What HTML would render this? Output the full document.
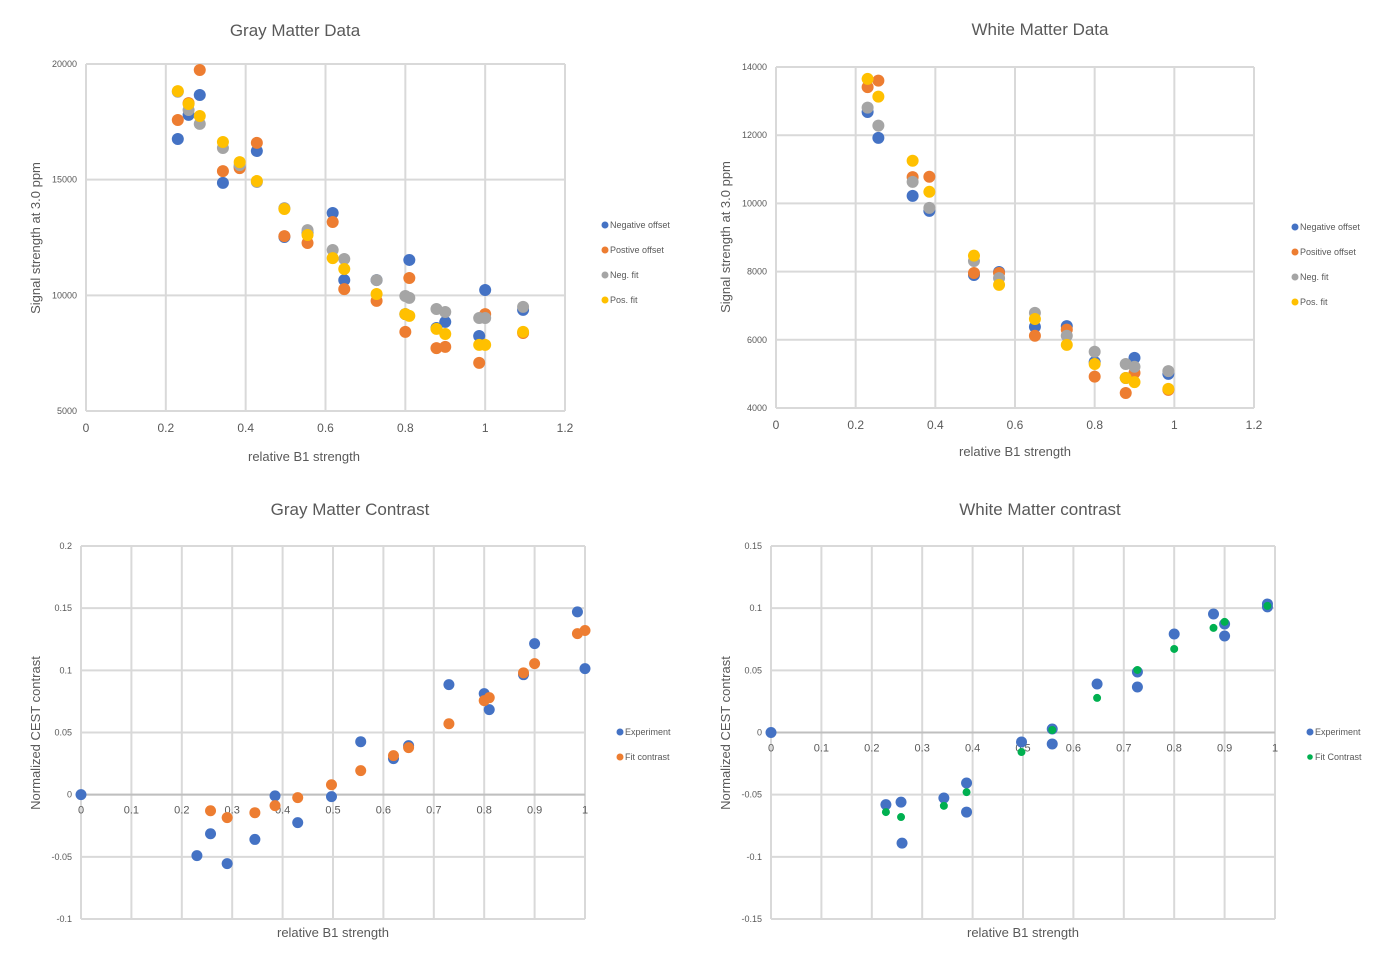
<!DOCTYPE html>
<html><head><meta charset="utf-8"><style>
html,body{margin:0;padding:0;background:#fff;}
svg text{font-family:"Liberation Sans",sans-serif;fill:#595959;}
</style></head><body>
<svg id="root" width="1387" height="967" xmlns="http://www.w3.org/2000/svg"></svg>
<script>
// ---- Chart 1: Gray Matter Data
const gmX = [0.23,0.257,0.285,0.343,0.385,0.428,0.497,0.555,0.618,0.647,0.728,0.8,0.81,0.878,0.9,0.985,1.0,1.095];
const gmNeg = [16760,17800,18660,14860,15550,16240,12520,12700,13560,10660,10660,9190,11530,8590,8850,8240,10230,9370];
const gmPos = [17580,18310,19740,15370,15500,16590,12560,12260,13170,10270,9760,8420,10750,7720,7770,7080,9190,8370];
const gmNegFit = [18800,18010,17410,16370,15630,14900,13770,12820,11960,11570,10660,9970,9890,9410,9280,9020,9020,9500];
const gmPosFit = [18830,18270,17750,16630,15760,14940,13730,12610,11610,11140,10060,9190,9110,8550,8330,7860,7860,8420];
const gmXTicks = [0,0.2,0.4,0.6,0.8,1,1.2];
const gmYTicks = [5000,10000,15000,20000];
// ---- Chart 2: White Matter Data
const wmX = [0.23,0.257,0.343,0.385,0.497,0.56,0.65,0.73,0.8,0.878,0.9,0.985];
const wmNeg = [12680,11920,10220,9780,7900,7990,6380,6400,5350,4880,5470,5000];
const wmPos = [13410,13600,10770,10780,7960,7960,6120,6300,4920,4440,5030,4530];
const wmNegFit = [12810,12280,10630,9870,8310,7810,6790,6120,5650,5290,5210,5080];
const wmPosFit = [13650,13130,11250,10340,8470,7610,6610,5850,5290,4880,4760,4560];
const wmXTicks = [0,0.2,0.4,0.6,0.8,1,1.2];
const wmYTicks = [4000,6000,8000,10000,12000,14000];
// ---- Chart 3: Gray Matter Contrast
const gcExpX = [0,0.23,0.257,0.29,0.345,0.385,0.43,0.497,0.555,0.62,0.65,0.73,0.8,0.81,0.878,0.9,0.985,1.0];
const gcExpY = [0,-0.049,-0.0314,-0.0555,-0.036,-0.001,-0.0225,-0.0016,0.0426,0.029,0.0394,0.0885,0.0813,0.0684,0.0965,0.1215,0.147,0.1014];
const gcFitX = [0.257,0.29,0.345,0.385,0.43,0.497,0.555,0.62,0.65,0.73,0.8,0.81,0.878,0.9,0.985,1.0];
const gcFitY = [-0.0129,-0.0185,-0.0145,-0.0088,-0.0024,0.008,0.0193,0.0314,0.0378,0.057,0.0756,0.078,0.098,0.1054,0.1295,0.132];
const gcXTicks = [0,0.1,0.2,0.3,0.4,0.5,0.6,0.7,0.8,0.9,1];
const gcYTicks = [-0.1,-0.05,0,0.05,0.1,0.15,0.2];
// ---- Chart 4: White Matter contrast
const wcExpX = [0,0.228,0.258,0.26,0.343,0.388,0.388,0.497,0.558,0.558,0.647,0.727,0.727,0.8,0.878,0.9,0.9,0.985,0.985];
const wcExpY = [0,-0.058,-0.056,-0.089,-0.0527,-0.0406,-0.064,-0.0076,-0.0092,0.0028,0.039,0.0366,0.0487,0.0792,0.0953,0.0873,0.0776,0.1034,0.101];
const wcFitX = [0.228,0.258,0.343,0.388,0.497,0.558,0.647,0.727,0.8,0.878,0.9,0.985];
const wcFitY = [-0.064,-0.068,-0.059,-0.048,-0.0157,0.002,0.0278,0.0503,0.0672,0.0841,0.089,0.1018];
const wcXTicks = [0,0.1,0.2,0.3,0.4,0.5,0.6,0.7,0.8,0.9,1];
const wcYTicks = [-0.15,-0.1,-0.05,0,0.05,0.1,0.15];

const NS='http://www.w3.org/2000/svg';
const root=document.getElementById('root');
function mk(tag,attrs,parent,txt){const e=document.createElementNS(NS,tag);for(const k in attrs)e.setAttribute(k,attrs[k]);if(txt!==undefined)e.textContent=txt;(parent||root).appendChild(e);return e;}

function chart(cfg){
  const g=mk('g',{});
  
  
  const sx=v=>cfg.x0+(v-cfg.xmin)/(cfg.xmax-cfg.xmin)*(cfg.x1-cfg.x0);
  const sy=v=>cfg.y1-(v-cfg.ymin)/(cfg.ymax-cfg.ymin)*(cfg.y1-cfg.y0);
  const t=mk('text',{x:cfg.tx,y:cfg.ty,'text-anchor':'middle','font-size':17},g,cfg.title);
  
  
  cfg.xticks.forEach(v=>{
    const l=mk('line',{x1:sx(v),x2:sx(v),y1:cfg.y0,y2:cfg.y1,stroke:'#d9d9d9','stroke-width':2},g);
    
    
    const ly=cfg.zeroAxis?sy(0)+19:cfg.y1+21;
    const tl=mk('text',{x:sx(v),y:ly,'text-anchor':'middle','font-size':cfg.zeroAxis?11:12},g,String(v));
    
    
  });
  cfg.yticks.forEach(v=>{
    const l=mk('line',{x1:cfg.x0,x2:cfg.x1,y1:sy(v),y2:sy(v),stroke:'#d9d9d9','stroke-width':2},g);
    
    
    const tl=mk('text',{x:cfg.x0-9,y:sy(v)+3,'text-anchor':'end','font-size':9},g,String(v));
    
    
  });
  if(cfg.zeroAxis){
    const z=mk('line',{x1:cfg.x0,x2:cfg.x1,y1:sy(0),y2:sy(0),stroke:'#bfbfbf','stroke-width':2},g);
    
    
  }
  const xt=mk('text',{x:cfg.xtx,y:cfg.xty,'text-anchor':'middle','font-size':13},g,'relative B1 strength');
  
  
  const yt=mk('text',{x:0,y:0,'text-anchor':'middle','font-size':13,transform:`translate(${cfg.ytx},${cfg.yty}) rotate(-90)`},g,cfg.ytitle);
  
  
  cfg.series.forEach((s,i)=>{
    s.xs.forEach((xv,j)=>{
      const c=mk('circle',{cx:sx(xv),cy:sy(s.ys[j]),r:s.r,fill:s.color},g);
      
      
    });
    const ly=cfg.ly+i*25;
    const lc=mk('circle',{cx:cfg.lx,cy:ly,r:s.r>5?3.5:2.8,fill:s.color},g);
    
    
    const lt=mk('text',{x:cfg.lx+5,y:ly+3,'font-size':9},g,s.label);
    
    
  });
}
const rep=(a)=>a;
chart({name:'gray-matter-data-chart',title:'Gray Matter Data',tx:295,ty:36,x0:86,x1:565,y0:64,y1:411,xmin:0,xmax:1.2,ymin:5000,ymax:20000,
  xticks:gmXTicks,yticks:gmYTicks,xtx:304,xty:461,ytx:40,yty:238,ytitle:'Signal strength at 3.0 ppm',lx:605,ly:225,
  series:[{key:'negative-offset',label:'Negative offset',color:'#4472C4',r:6,xs:gmX,ys:gmNeg},
          {key:'positive-offset',label:'Postive offset',color:'#ED7D31',r:6,xs:gmX,ys:gmPos},
          {key:'neg-fit',label:'Neg. fit',color:'#A5A5A5',r:6,xs:gmX,ys:gmNegFit},
          {key:'pos-fit',label:'Pos. fit',color:'#FFC000',r:6,xs:gmX,ys:gmPosFit}]});
chart({name:'white-matter-data-chart',title:'White Matter Data',tx:1040,ty:35,x0:776,x1:1254,y0:67,y1:408,xmin:0,xmax:1.2,ymin:4000,ymax:14000,
  xticks:wmXTicks,yticks:wmYTicks,xtx:1015,xty:456,ytx:730,yty:237,ytitle:'Signal strength at 3.0 ppm',lx:1295,ly:227,
  series:[{key:'negative-offset',label:'Negative offset',color:'#4472C4',r:6,xs:wmX,ys:wmNeg},
          {key:'positive-offset',label:'Positive offset',color:'#ED7D31',r:6,xs:wmX,ys:wmPos},
          {key:'neg-fit',label:'Neg. fit',color:'#A5A5A5',r:6,xs:wmX,ys:wmNegFit},
          {key:'pos-fit',label:'Pos. fit',color:'#FFC000',r:6,xs:wmX,ys:wmPosFit}]});
chart({name:'gray-matter-contrast-chart',title:'Gray Matter Contrast',tx:350,ty:515,x0:81,x1:585,y0:546,y1:919,xmin:0,xmax:1,ymin:-0.1,ymax:0.2,zeroAxis:true,
  xticks:gcXTicks,yticks:gcYTicks,xtx:333,xty:937,ytx:40,yty:733,ytitle:'Normalized CEST contrast',lx:620,ly:732,
  series:[{key:'experiment',label:'Experiment',color:'#4472C4',r:5.5,xs:gcExpX,ys:gcExpY},
          {key:'fit-contrast',label:'Fit contrast',color:'#ED7D31',r:5.5,xs:gcFitX,ys:gcFitY}]});
chart({name:'white-matter-contrast-chart',title:'White Matter contrast',tx:1040,ty:515,x0:771,x1:1275,y0:546,y1:919,xmin:0,xmax:1,ymin:-0.15,ymax:0.15,zeroAxis:true,
  xticks:wcXTicks,yticks:wcYTicks,xtx:1023,xty:937,ytx:730,yty:733,ytitle:'Normalized CEST contrast',lx:1310,ly:732,
  series:[{key:'experiment',label:'Experiment',color:'#4472C4',r:5.5,xs:wcExpX,ys:wcExpY},
          {key:'fit-contrast',label:'Fit Contrast',color:'#00B050',r:4,xs:wcFitX,ys:wcFitY}]});
</script>
</body></html>
